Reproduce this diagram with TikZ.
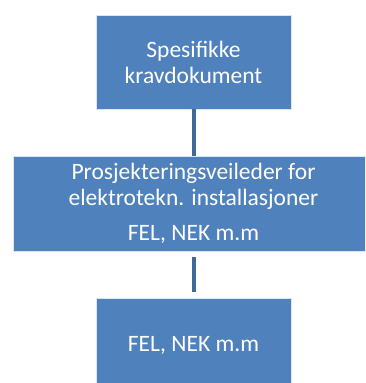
\documentclass[tikz,border=0pt]{standalone}
\usepackage{fontspec}
\setmainfont{Carlito}
\usetikzlibrary{positioning}
\definecolor{boksblaa}{RGB}{79,129,189}
\definecolor{linjeblaa}{RGB}{65,104,155}

\begin{document}
\begin{tikzpicture}[x=1pt,y=1pt,node distance=141.5pt,on grid,
    boks/.style={rectangle, fill=boksblaa, draw=white!80!boksblaa, line width=0.6pt,
      text=white, align=center, font=\fontsize{23.5}{26}\selectfont,
      minimum width=195pt, minimum height=94pt, inner sep=0pt},
    kobling/.style={draw=linjeblaa, line width=4pt, shorten <=6pt, shorten >=6pt}]
  \useasboundingbox (0,0) rectangle (365,-383);
  \clip (0,0) rectangle (365,-383);
  \node[boks] (krav) at (193.5,-62) {Spesifikke\\kravdokument};
  \node[boks, minimum width=361pt, minimum height=95pt] (veileder) [below=of krav]
    {Prosjekteringsveileder for\\elektrotekn. installasjoner\\[9pt]FEL, NEK m.m};
  \node[boks] (fel) [below=of veileder] {FEL, NEK m.m};

  \path[kobling] (krav) -- (veileder)
    (veileder) -- (fel);
\end{tikzpicture}
\end{document}
